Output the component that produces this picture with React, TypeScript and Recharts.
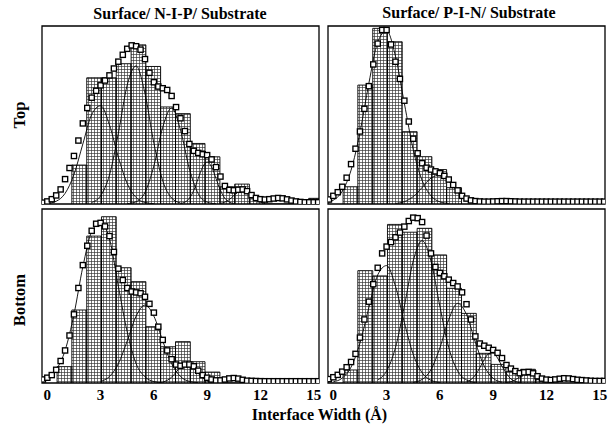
import React from "react";
import { Area, ComposedChart, Line, ReferenceArea, XAxis, YAxis } from "recharts";

type Pt = [number, number];

const serif = "'Liberation Serif', 'DejaVu Serif', serif";

// histogram bin edges (Å), shared by all four panels
const binEdges = [
  0.55, 1.38, 2.22, 3.05, 3.88, 4.72, 5.55, 6.38, 7.22, 8.05, 8.88, 9.72,
  10.55, 11.38, 12.22, 13.05, 13.88, 14.72, 15.55,
];

const nipTopBins = [0, 22.7, 73.6, 73.6, 81.8, 92.8, 80.2, 56.6, 52.7, 35.3, 27.5, 10, 11.6, 3, 0, 0, 0, 3.3];
const pinTopBins = [9.5, 65.6, 96.9, 89.5, 39.9, 26.1, 19, 9, 0, 0, 0, 0, 0, 0, 0, 0, 0, 0];
const nipBottomBins = [9.3, 41.5, 83.5, 94.5, 65.5, 57.6, 32, 20.6, 23.5, 12.1, 6.2, 0, 0, 2.6, 0, 0, 0, 0];
const pinBottomBins = [7.7, 66.3, 63.2, 93.6, 89, 91.3, 75.6, 55.9, 41.1, 17.5, 11, 6.7, 8.1, 2, 0, 0, 0, 0];

// smoothed distribution (square markers), sampled every 0.25 Å from -0.25 Å
const sumStart = -0.25;
const sumStep = 0.25;

const nipTopSum = [
  0.8, 1.5, 2.8, 5, 8.5, 14.5, 21, 28,
  37, 47, 56, 62, 66, 69.2, 72, 75,
  79, 83, 87, 90.5, 92.5, 92, 90, 84.5,
  76.5, 71, 68.5, 67.5, 66.5, 63, 56.5, 50,
  42.5, 35, 31, 29.8, 29, 28.5, 26, 21.5,
  16, 10.5, 8.2, 8, 8.3, 8.5, 7.5, 5.2,
  3.5, 2.8, 2.6, 2.8, 3.2, 3.5, 3.3, 2.7,
  2, 1.5, 1.2, 1, 1, 1, 1,
];
const pinTopSum = [
  2.5, 4.5, 6.5, 9.5, 14.5, 22, 30.5, 40,
  52.5, 65, 77, 88.5, 96, 96, 88, 78.5,
  69, 57, 45.5, 36, 28, 22.5, 20, 19,
  18, 17, 15.5, 13.5, 10.5, 7.5, 4.5, 3,
  2, 1.6, 1.4, 1.3, 1.3, 1.4, 1.5, 1.6,
  1.6, 1.5, 1.4, 1.3, 1.3, 1.3, 1.3, 1.3,
  1.3, 1.3, 1.3, 1.3, 1.3, 1.3, 1.3, 1.3,
  1.3, 1.3, 1.3, 1.3, 1.3, 1.3, 1.3,
];
const nipBottomSum = [
  2, 3, 4.5, 7.5, 12.5, 18.5, 27, 39,
  54, 67, 78, 86.5, 90.5, 91, 89, 83.5,
  74.5, 65, 58.5, 54, 52, 51.5, 51, 49,
  45, 40, 32, 24.5, 18.5, 13.5, 10.5, 9.8,
  10.5, 10.5, 9.5, 7, 4.5, 3, 2, 1.5,
  1.5, 2, 2.6, 2.8, 2.5, 1.8, 1.3, 1.2,
  1.1, 1, 1, 1, 1, 1, 1, 1,
  1, 1, 1, 1, 1, 1, 1,
];
const pinBottomSum = [
  2.3, 3.4, 4.8, 6.7, 9.3, 12.4, 17.2, 26.8,
  37.5, 48, 58.3, 68, 76.5, 80.5, 83.2, 86,
  88.8, 92.3, 95.6, 97.6, 97.3, 95, 87, 76.5,
  68.5, 65, 63, 61, 59, 57, 53.5, 46.5,
  37.5, 27.5, 23.3, 22, 20.8, 19.5, 17.8, 14.7,
  10.6, 8.5, 7, 5.8, 6.3, 6.5, 5.7, 4,
  2.6, 2, 1.8, 2.1, 2.5, 2.8, 2.7, 2.3,
  1.9, 1.7, 1.5, 1.3, 1.2, 1.2, 1.2,
];

// fitted gaussian components, [Å, value]
const nipTopFit1: Pt[] = [[0, 0.3], [0.5, 1.6], [1, 6.2], [1.5, 17.2], [2, 35], [2.5, 52.2], [3, 57.3], [3.5, 46.1], [4, 27.3], [4.5, 11.9], [5, 3.8], [5.5, 0.9], [6, 0.2]];
const nipTopFit2: Pt[] = [[2.5, 0.9], [3, 4.8], [3.5, 16.9], [4, 41.2], [4.5, 69.4], [5, 80.5], [5.5, 64.4], [6, 35.5], [6.5, 13.5], [7, 3.5], [7.5, 0.6]];
const nipTopFit3: Pt[] = [[4.5, 0.2], [5, 1.3], [5.5, 6.8], [6, 22.2], [6.5, 44.8], [7, 56], [7.5, 43.1], [8, 20.5], [8.5, 6], [9, 1.1], [9.5, 0.1]];
const nipTopFit4: Pt[] = [[7.5, 0.3], [7.75, 1.1], [8, 3.3], [8.25, 8], [8.5, 14.9], [8.75, 21.6], [9, 24.5], [9.25, 21.6], [9.5, 14.9], [9.75, 8], [10, 3.3], [10.25, 1.1], [10.5, 0.3]];
const nipTopFit5: Pt[] = [[9.75, 0.4], [10, 1.1], [10.25, 2.6], [10.5, 4.9], [10.75, 7.1], [11, 8], [11.25, 7.1], [11.5, 4.9], [11.75, 2.6], [12, 1.1], [12.25, 0.4]];

const pinTopFit1: Pt[] = [[-0.25, 0.9], [0, 2.1], [0.5, 7], [1, 18.7], [1.5, 39.5], [2, 66.5], [2.5, 89.3], [3, 95.6], [3.5, 81.5], [4, 55.5], [4.5, 30], [5, 13], [5.5, 4.5], [6, 1.2], [6.5, 0.3]];
const pinTopFit2: Pt[] = [[3.5, 0.3], [4, 1.3], [4.5, 4.1], [5, 9.1], [5.5, 14.3], [6, 15.9], [6.5, 12.5], [7, 6.9], [7.5, 2.7], [8, 0.8], [8.5, 0.2]];

const nipBottomFit1: Pt[] = [[-0.25, 1.5], [0, 2.5], [0.5, 7.5], [1, 18.5], [1.5, 39], [2, 66], [2.5, 86], [3, 91], [3.5, 82], [4, 55], [4.5, 29], [5, 11], [5.5, 3.5], [6, 0.8], [6.5, 0.1]];
const nipBottomFit2: Pt[] = [[3, 0.9], [3.5, 3.7], [4, 11], [4.5, 23.9], [5, 38], [5.5, 44.3], [6, 38], [6.5, 23.9], [7, 11], [7.5, 3.7], [8, 0.9], [8.5, 0.2]];
const nipBottomFit3: Pt[] = [[6.5, 0.5], [6.75, 1.5], [7, 3.3], [7.25, 6.1], [7.5, 9], [7.75, 10.8], [8, 10.6], [8.25, 8.4], [8.5, 5.5], [8.75, 2.9], [9, 1.2], [9.25, 0.4]];

const pinBottomFit1: Pt[] = [[0, 0.7], [0.5, 2.9], [1, 9.4], [1.5, 23.5], [2, 44.5], [2.5, 63.8], [3, 69.3], [3.5, 57.1], [4, 35.7], [4.5, 16.9], [5, 6.1], [5.5, 1.6], [6, 0.3]];
const pinBottomFit2: Pt[] = [[2.5, 1.8], [3, 7.1], [3.5, 20.9], [4, 45.3], [4.5, 72], [5, 84], [5.5, 72], [6, 45.3], [6.5, 20.9], [7, 7.1], [7.5, 1.8], [8, 0.3]];
const pinBottomFit3: Pt[] = [[4.5, 0.4], [5, 2.1], [5.5, 7.9], [6, 20.7], [6.5, 37.5], [7, 47], [7.5, 40.4], [8, 24], [8.5, 9.9], [9, 2.8], [9.5, 0.5]];
const pinBottomFit4: Pt[] = [[7.5, 0.7], [7.75, 2], [8, 4.7], [8.25, 9], [8.5, 13.8], [8.75, 17.3], [9, 17.7], [9.25, 14.7], [9.5, 9.9], [9.75, 5.5], [10, 2.4], [10.25, 0.9], [10.5, 0.3]];
const pinBottomFit5: Pt[] = [[9.75, 0.3], [10, 0.8], [10.25, 1.9], [10.5, 3.6], [10.75, 5.3], [11, 6], [11.25, 5.3], [11.5, 3.6], [11.75, 1.9], [12, 0.8], [12.25, 0.3]];

const xTicks = [0, 3, 6, 9, 12, 15];
const xDomain: [number, number] = [-0.3, 15.3];

// bars as one outlined polygon: up, across, down for every non-empty bin
const toHist = (heights: number[]) =>
  heights.flatMap((h, k) =>
    h > 0
      ? [
          { x: binEdges[k], v: 0 },
          { x: binEdges[k], v: h },
          { x: binEdges[k + 1], v: h },
          { x: binEdges[k + 1], v: 0 },
        ]
      : [],
  );
const toSum = (vals: number[]) => vals.map((v, i) => ({ x: sumStart + i * sumStep, v }));
const toPts = (pts: Pt[]) => pts.map(([x, v]) => ({ x, v }));

const squareDot = (p: any) => {
  if (p.cx == null || p.cy == null) return <g key={`sq-${p.index}`} />;
  return (
    <rect
      key={`sq-${p.index}`}
      x={p.cx - 2.6}
      y={p.cy - 2.6}
      width={5.2}
      height={5.2}
      fill="#fff"
      stroke="#000"
      strokeWidth={1.35}
    />
  );
};

type PanelProps = {
  id: string;
  left: number;
  top: number;
  plotH: number;
  yMax: number;
  yTicks: number[];
  bins: number[];
  sum: number[];
  fits: Pt[][];
  showX: boolean;
};

const PLOT_W = 277;
const M = 5;

function Panel({ id, left, top, plotH, yMax, yTicks, bins, sum, fits, showX }: PanelProps) {
  const axisH = showX ? 24 : 0;
  return (
    <div style={{ position: "absolute", left: left - M, top: top - M }}>
      <ComposedChart
        width={PLOT_W + 2 * M}
        height={plotH + M + (showX ? axisH : M)}
        data={toHist(bins)}
        margin={{ top: M, right: M, bottom: showX ? 0 : M, left: M }}
      >
        <defs>
          <pattern id={id} width={3} height={3} patternUnits="userSpaceOnUse">
            <rect width={3} height={3} fill="#fff" />
            <path d="M0 0.4H3M0.4 0V3" stroke="#333" strokeWidth={0.75} />
          </pattern>
        </defs>
        <XAxis
          dataKey="x"
          type="number"
          domain={xDomain}
          allowDataOverflow
          ticks={xTicks}
          hide={!showX}
          height={axisH}
          axisLine={false}
          tickLine={false}
          tickSize={4}
          tickMargin={2}
          tick={{ fill: "#000", fontSize: 15, fontWeight: 700, fontFamily: serif }}
        />
        <YAxis
          type="number"
          domain={[0, yMax]}
          allowDataOverflow
          ticks={yTicks}
          mirror
          width={1}
          tick={false}
          tickSize={6}
          axisLine={false}
          tickLine={{ stroke: "#000", strokeWidth: 1.2 }}
        />
        <Area
          type="linear"
          dataKey="v"
          fill={`url(#${id})`}
          fillOpacity={1}
          stroke="#000"
          strokeWidth={0.9}
          dot={false}
          activeDot={false}
          isAnimationActive={false}
        />
        {fits.map((f, i) => (
          <Line
            key={i}
            data={toPts(f)}
            dataKey="v"
            type="monotone"
            stroke="#000"
            strokeWidth={0.9}
            dot={false}
            activeDot={false}
            isAnimationActive={false}
          />
        ))}
        <Line
          data={toSum(sum)}
          dataKey="v"
          type="linear"
          stroke="none"
          dot={squareDot}
          activeDot={false}
          isAnimationActive={false}
        />
        <ReferenceArea
          x1={xDomain[0]}
          x2={xDomain[1]}
          y1={0}
          y2={yMax}
          fill="none"
          stroke="#000"
          strokeWidth={1.3}
          ifOverflow="visible"
        />
      </ComposedChart>
    </div>
  );
}

export default function App() {
  return (
    <div
      style={{
        position: "absolute",
        left: 0,
        top: 0,
        width: 613,
        height: 430,
        overflow: "hidden",
        background: "#fff",
      }}
    >
      <svg width={613} height={430} style={{ position: "absolute", left: 0, top: 0 }}>
        <g fontFamily={serif} fontWeight={700} fill="#000">
          <text x={180} y={18.5} fontSize={16} textAnchor="middle">
            Surface/ N-I-P/ Substrate
          </text>
          <text x={469} y={18} fontSize={16} textAnchor="middle">
            Surface/ P-I-N/ Substrate
          </text>
          <text x={24.5} y={115} fontSize={16.5} textAnchor="middle" transform="rotate(-90 24.5 115)">
            Top
          </text>
          <text x={24.5} y={300} fontSize={16.5} textAnchor="middle" transform="rotate(-90 24.5 300)">
            Bottom
          </text>
          <text x={319.5} y={420} fontSize={16} textAnchor="middle">
            Interface Width (Å)
          </text>
        </g>
      </svg>
      <Panel
        id="hatch-nip-top"
        left={42}
        top={26}
        plotH={178}
        yMax={103.8}
        yTicks={[50, 100]}
        bins={nipTopBins}
        sum={nipTopSum}
        fits={[nipTopFit1, nipTopFit2, nipTopFit3, nipTopFit4, nipTopFit5]}
        showX={false}
      />
      <Panel
        id="hatch-pin-top"
        left={328}
        top={26}
        plotH={178}
        yMax={98.2}
        yTicks={[50]}
        bins={pinTopBins}
        sum={pinTopSum}
        fits={[pinTopFit1, pinTopFit2]}
        showX={false}
      />
      <Panel
        id="hatch-nip-bottom"
        left={42}
        top={209}
        plotH={174}
        yMax={98.9}
        yTicks={[50]}
        bins={nipBottomBins}
        sum={nipBottomSum}
        fits={[nipBottomFit1, nipBottomFit2, nipBottomFit3]}
        showX
      />
      <Panel
        id="hatch-pin-bottom"
        left={328}
        top={209}
        plotH={174}
        yMax={102.7}
        yTicks={[50, 100]}
        bins={pinBottomBins}
        sum={pinBottomSum}
        fits={[pinBottomFit1, pinBottomFit2, pinBottomFit3, pinBottomFit4, pinBottomFit5]}
        showX
      />
    </div>
  );
}
